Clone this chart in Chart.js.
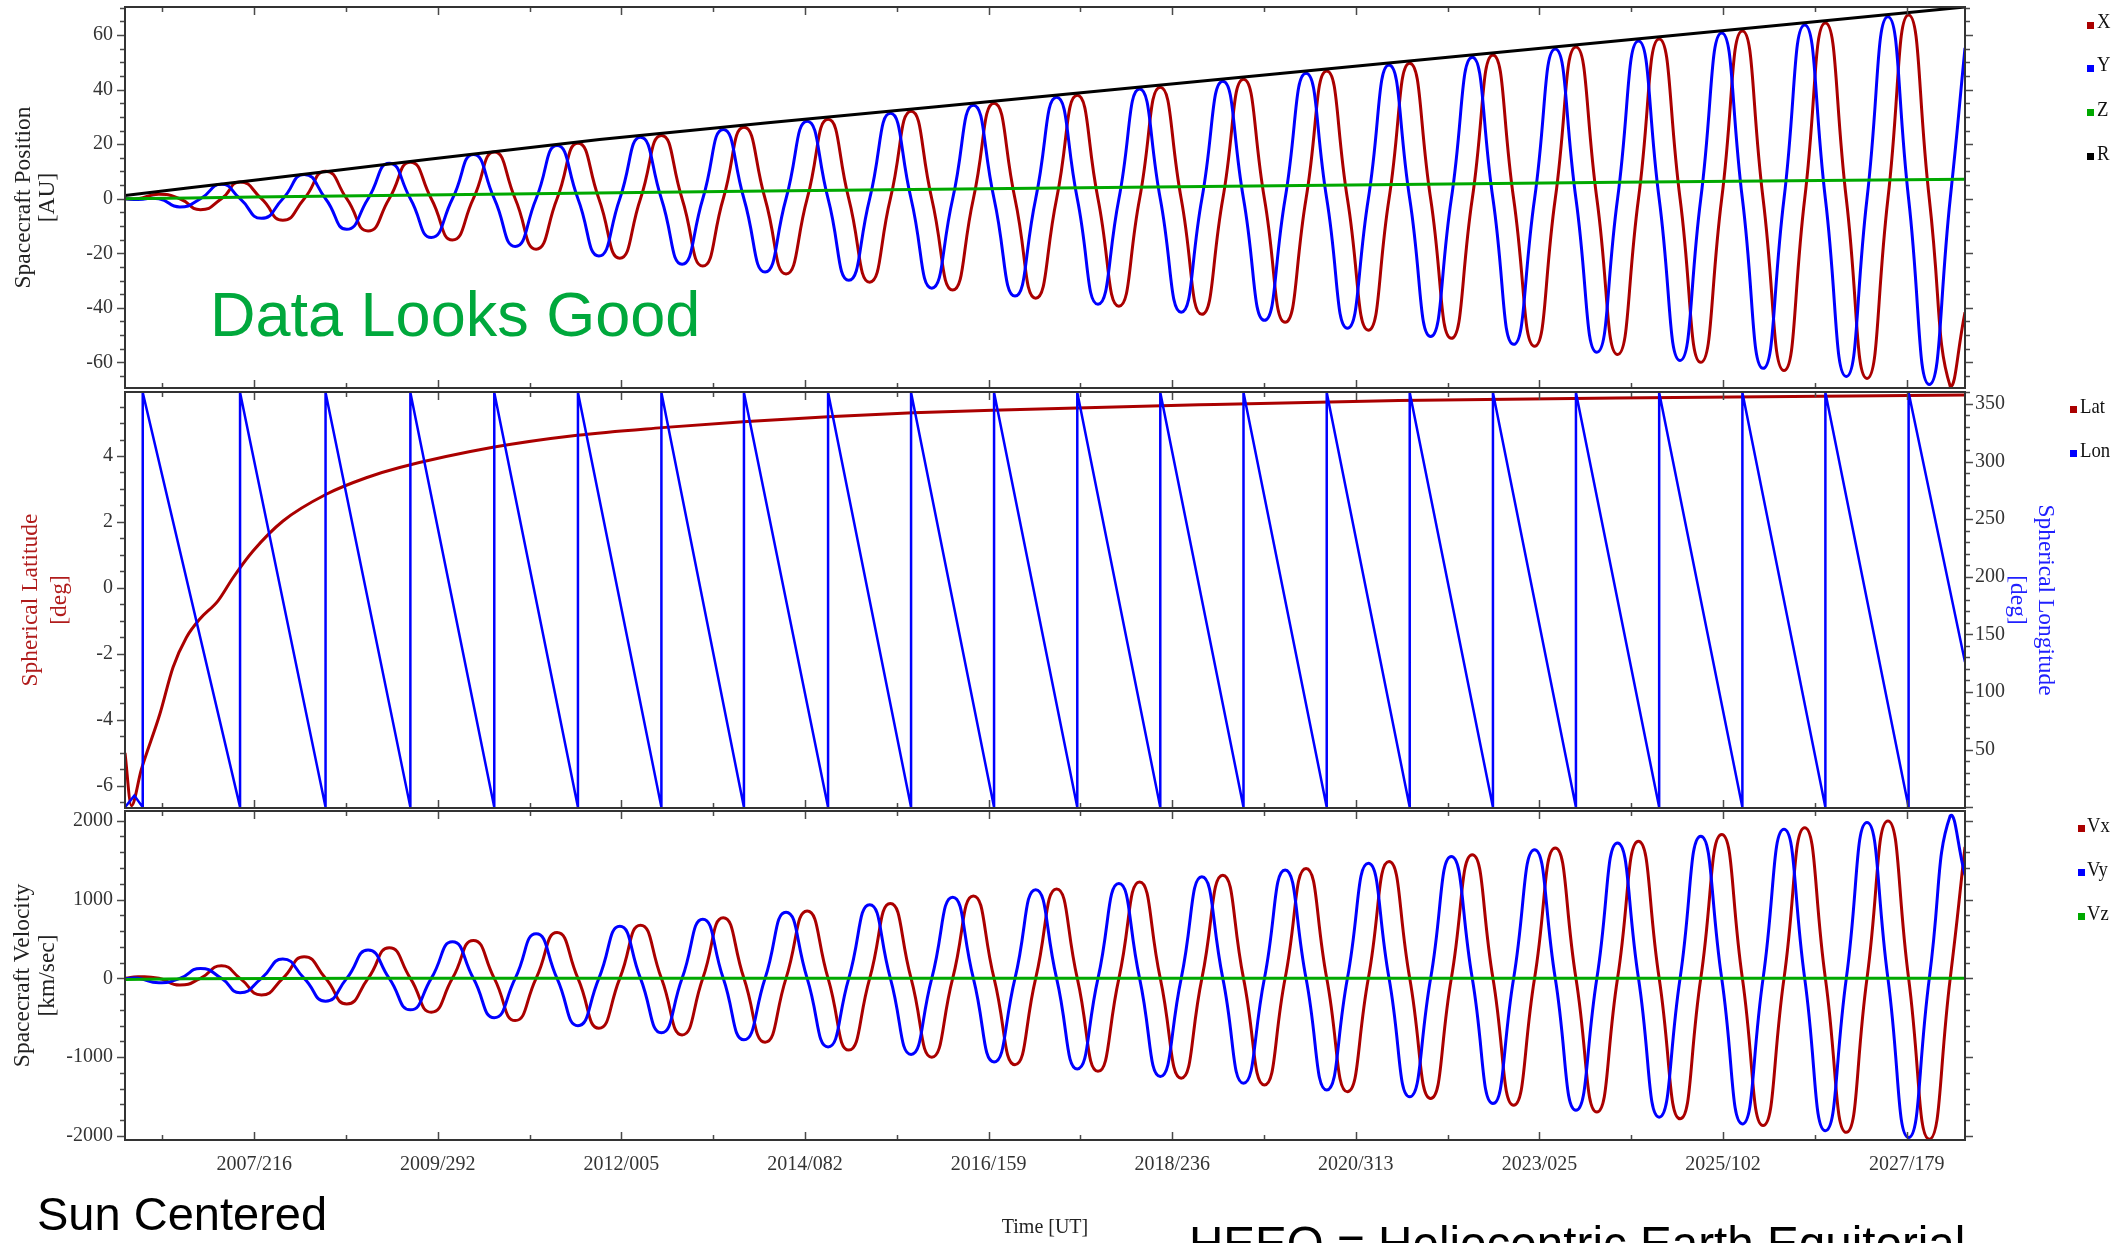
<!DOCTYPE html>
<html>
<head>
<meta charset="utf-8">
<title>Spacecraft Position - HEEQ</title>
<script src="https://cdn.jsdelivr.net/npm/chart.js"></script>
<style>
  html, body { margin: 0; padding: 0; background: #fff; }
  body { width: 2113px; height: 1243px; overflow: hidden; position: relative; }
  canvas { position: absolute; left: 0; }
  .note { position: absolute; font-family: 'Liberation Sans', Arial, sans-serif; line-height: 1; white-space: nowrap; }
  .key { position: absolute; font-family: 'Liberation Serif', serif; font-size: 22px; line-height: 22px; color: #111;
         white-space: nowrap; transform: scaleX(0.85); transform-origin: left top; }
  .sq { position: absolute; width: 7px; height: 7px; }
</style>
</head>
<body>
<canvas id="posChart" width="2113" height="390" style="top:0px"></canvas>
<canvas id="angChart" width="2113" height="420" style="top:390px"></canvas>
<canvas id="velChart" width="2113" height="433" style="top:810px"></canvas>

<div class="note" style="left:210px; top:283px; font-size:63px; color:#00a83c;">Data Looks Good</div>
<div class="note" style="left:37px; top:1190px; font-size:47px; color:#000;">Sun Centered</div>
<div class="note" style="left:1189px; top:1220px; font-size:47.6px; color:#000;">HEEQ = Heliocentric Earth Equitorial</div>

<script>
// x values are days counted from 2007/216 (the first labelled tick)
const xTickDays = [0, 807.5, 1615, 2422.5, 3230, 4037.5, 4845, 5652.5, 6460, 7267.5];
const xTickLabels = ['2007/216', '2009/292', '2012/005', '2014/082', '2016/159',
                     '2018/236', '2020/313', '2023/025', '2025/102', '2027/179'];

// sample times: extremes and zero crossings of the yearly swing
const sampleDays = [
  -568,
  -511, -419, -327, -236, -144,
  -62, 32, 126, 220,
  314, 407, 501, 594,
  687, 779, 872, 964,
  1056, 1148, 1240, 1332,
  1424, 1516, 1608, 1699,
  1791, 1882, 1973, 2063,
  2154, 2247, 2339, 2432,
  2524, 2615, 2707, 2798,
  2889, 2980, 3072, 3163,
  3254, 3346, 3437, 3529,
  3620, 3711, 3803, 3894,
  3985, 4077, 4168, 4260,
  4351, 4443, 4534, 4626,
  4717, 4808, 4900, 4991,
  5082, 5174, 5265, 5357,
  5448, 5539, 5631, 5722,
  5813, 5905, 5996, 6088,
  6179, 6271, 6362, 6454,
  6545, 6636, 6728, 6819,
  6910, 7002, 7093, 7185,
  7276, 7367, 7459,
  7524
];

// position [AU]
const posX = [
  0,
  0, 1.6, 0, -4.0, 0,
  6.1, 0, -7.9, 0,
  10.1, 0, -11.8, 0,
  13.4, 0, -15.1, 0,
  17.1, 0, -18.5, 0,
  20.3, 0, -21.8, 0,
  23.2, 0, -24.7, 0,
  26.2, 0, -27.6, 0,
  29.1, 0, -30.6, 0,
  32.1, 0, -33.5, 0,
  35.0, 0, -36.5, 0,
  37.9, 0, -39.4, 0,
  40.9, 0, -42.4, 0,
  43.8, 0, -45.3, 0,
  46.8, 0, -48.2, 0,
  49.7, 0, -51.2, 0,
  52.7, 0, -54.1, 0,
  55.6, 0, -57.1, 0,
  58.6, 0, -60.0, 0,
  61.5, 0, -63.0, 0,
  64.4, 0, -65.9, 0,
  67.4, 0, -68.8,
  -41.6
];
const posY = [
  0,
  -0.3, 0, -3.0, 0, 5.3,
  0, -7.2, 0, 8.9,
  0, -11.2, 0, 13.0,
  0, -14.2, 0, 16.2,
  0, -17.5, 0, 19.5,
  0, -21.0, 0, 22.5,
  0, -24.0, 0, 25.4,
  0, -26.9, 0, 28.4,
  0, -29.9, 0, 31.3,
  0, -32.8, 0, 34.3,
  0, -35.7, 0, 37.2,
  0, -38.7, 0, 40.2,
  0, -41.6, 0, 43.1,
  0, -44.6, 0, 46.0,
  0, -47.5, 0, 49.0,
  0, -50.5, 0, 51.9,
  0, -53.4, 0, 54.9,
  0, -56.3, 0, 57.8,
  0, -59.3, 0, 60.8,
  0, -62.2, 0, 63.7,
  0, -65.2, 0, 66.7,
  0, -68.1, 0,
  55.3
];
const rDays = [-568, 0, 1519, 3000, 4500, 6000, 7524];
const posR  = [1.2, 6.8, 21.7, 33.7, 45.8, 57.9, 70.3];
const zDays = [-568, 0, 1500, 3000, 4500, 6000, 7524];
const posZ  = [0, 0.6, 2.1, 3.5, 4.8, 6.0, 7.1];

// spherical latitude / longitude [deg]
const latDays = [-568, -540, -496, -415, -357, -298, -240, -159, -93, -5, 127, 317, 493, 640,
                 1056, 1421, 1794, 2151, 2524, 2898, 3246, 4156, 5035, 5989, 7524];
const latDeg  = [-5.0, -6.6, -5.5, -3.83, -2.41, -1.5, -0.95, -0.39, 0.31, 1.12, 2.03, 2.84, 3.34, 3.65,
                 4.27, 4.63, 4.86, 5.04, 5.19, 5.31, 5.39, 5.55, 5.68, 5.76, 5.85];
const lonDays = [-568, -527, -490, -490, -62, -62, 314, 314, 687, 687, 1056, 1056, 1424, 1424,
                 1791, 1791, 2154, 2154, 2524, 2524, 2889, 2889, 3254, 3254, 3620, 3620, 3985, 3985,
                 4351, 4351, 4717, 4717, 5082, 5082, 5448, 5448, 5813, 5813, 6179, 6179, 6545, 6545,
                 6910, 6910, 7276, 7276, 7524];
const lonDeg  = [0, 10, 0, 360, 0, 360, 0, 360, 0, 360, 0, 360, 0, 360,
                 0, 360, 0, 360, 0, 360, 0, 360, 0, 360, 0, 360, 0, 360,
                 0, 360, 0, 360, 0, 360, 0, 360, 0, 360, 0, 360, 0, 360,
                 0, 360, 0, 360, 126];

// velocity [km/sec]
const velX = [
  0,
  20, 0, -85, 0, 160,
  0, -211, 0, 274,
  0, -325, 0, 388,
  0, -430, 0, 480,
  0, -536, 0, 580,
  0, -633, 0, 675,
  0, -718, 0, 768,
  0, -810, 0, 855,
  0, -910, 0, 950,
  0, -1000, 0, 1045,
  0, -1095, 0, 1135,
  0, -1180, 0, 1223,
  0, -1266, 0, 1309,
  0, -1352, 0, 1395,
  0, -1438, 0, 1481,
  0, -1524, 0, 1567,
  0, -1610, 0, 1653,
  0, -1696, 0, 1739,
  0, -1782, 0, 1825,
  0, -1868, 0, 1911,
  0, -1954, 0, 1997,
  0, -2040, 0,
  1666
];
const velY = [
  -5,
  0, -55, 0, 126, 0,
  -182, 0, 244, 0,
  -290, 0, 358, 0,
  -400, 0, 463, 0,
  -500, 0, 565, 0,
  -600, 0, 660, 0,
  -690, 0, 750, 0,
  -780, 0, 840, 0,
  -870, 0, 935, 0,
  -965, 0, 1030, 0,
  -1060, 0, 1125, 0,
  -1150, 0, 1202, 0,
  -1245, 0, 1288, 0,
  -1331, 0, 1374, 0,
  -1417, 0, 1460, 0,
  -1503, 0, 1546, 0,
  -1589, 0, 1632, 0,
  -1675, 0, 1718, 0,
  -1761, 0, 1804, 0,
  -1847, 0, 1890, 0,
  -1933, 0, 1976, 0,
  -2019, 0, 2062,
  1308
];
const vzDays = [-568, -300, 500, 7524];
const velZ   = [-15, -5, 0, 0];

const RED = '#aa0000', BLUE = '#0000ff', GREEN = '#00a800';
const X_MIN = -568, X_MAX = 7524;

Chart.defaults.font.family = "'Liberation Serif', 'Times New Roman', serif";
Chart.defaults.color = '#333';

function pts(days, vals) {
  return days.map((d, i) => ({ x: d, y: vals[i] }));
}

function line(label, days, vals, color, extra) {
  return Object.assign({
    label: label, data: pts(days, vals), borderColor: color, backgroundColor: color,
    borderWidth: 3, pointRadius: 0, fill: false, tension: 0.55
  }, extra || {});
}

// fixed axis boxes, and no extra room for labels hanging past the plot edges
const fixedWidth = w => s => { s.width = w; s.paddingTop = 0; s.paddingBottom = 0; };
const fixedHeight = h => s => { s.height = h; s.paddingLeft = 0; s.paddingRight = 0; };
const tickValues = vals => s => { s.ticks = vals.map(v => ({ value: v })); };
const noGrid = { display: false, drawTicks: false };

function xScale(showLabels) {
  return {
    type: 'linear', min: X_MIN, max: X_MAX, display: showLabels,
    grid: noGrid, border: { display: false },
    afterBuildTicks: tickValues(xTickDays),
    afterFit: fixedHeight(showLabels ? 103 : 0),
    ticks: {
      autoSkip: false, maxRotation: 0, minRotation: 0, padding: 13,
      font: { size: 20 }, color: '#333',
      callback: (v, i) => xTickLabels[i]
    },
    title: {
      display: showLabels, text: 'Time [UT]', color: '#222',
      font: { size: 20, lineHeight: 1.2 }, padding: { top: 0, bottom: 3 }
    }
  };
}

function yTitle(lines, color, lineHeightPx, pad) {
  return {
    display: true, text: lines, color: color,
    font: { size: 23.5, lineHeight: lineHeightPx / 23.5 },
    padding: { top: pad, bottom: 0 }
  };
}

// frame around each panel, inward time ticks, outward value ticks
const framePlugin = {
  id: 'frame',
  afterDraw(chart, args, opts) {
    const { ctx, chartArea: a, scales } = chart;
    const seg = (x1, y1, x2, y2) => { ctx.moveTo(x1, y1); ctx.lineTo(x2, y2); };
    ctx.save();
    ctx.strokeStyle = '#4a4a4a';
    ctx.lineWidth = 1.5;
    ctx.beginPath();

    xTickDays.forEach(d => {
      const px = Math.round(scales.x.getPixelForValue(d)) + 0.5;
      seg(px, a.top, px, a.top + 8);
      seg(px, a.bottom, px, a.bottom - 8);
      const pm = Math.round(scales.x.getPixelForValue(d - 403.75)) + 0.5;
      seg(pm, a.top, pm, a.top + 5);
      seg(pm, a.bottom, pm, a.bottom - 5);
    });

    const yTicks = (scale, minor, major, side) => {
      for (let k = Math.ceil(scale.min / minor - 1e-9); k * minor <= scale.max + 1e-9; k++) {
        const v = k * minor;
        const py = Math.round(scale.getPixelForValue(v)) + 0.5;
        const len = Math.abs(v / major - Math.round(v / major)) < 1e-6 ? 8 : 5;
        if (side === 'left') seg(a.left - len, py, a.left, py);
        else seg(a.right, py, a.right + len, py);
      }
    };
    yTicks(scales.y, opts.minor, opts.major, 'left');
    if (opts.rightScale) yTicks(scales[opts.rightScale], opts.rightMinor, opts.rightMajor, 'right');
    else yTicks(scales.y, opts.minor, opts.major, 'right');
    ctx.stroke();

    ctx.strokeStyle = '#333';
    ctx.lineWidth = 2;
    ctx.strokeRect(a.left, a.top, a.right - a.left, a.bottom - a.top);
    ctx.restore();
  }
};

const commonPlugins = { legend: { display: false }, tooltip: { enabled: false } };

// Panel 1: position
new Chart(document.getElementById('posChart'), {
  type: 'line',
  data: { datasets: [
    line('R', rDays, posR, '#000000', { order: 0, tension: 0.3 }),
    line('Z', zDays, posZ, GREEN, { order: 1, tension: 0.3 }),
    line('Y', sampleDays, posY, BLUE, { order: 2 }),
    line('X', sampleDays, posX, RED, { order: 3 })
  ] },
  options: {
    responsive: false, animation: false, events: [],
    layout: { padding: { top: 7, bottom: 2, left: 0, right: 148 } },
    scales: {
      x: xScale(false),
      y: {
        min: -69.4, max: 70.3, grid: noGrid, border: { display: false },
        afterFit: fixedWidth(125),
        afterBuildTicks: tickValues([-60, -40, -20, 0, 20, 40, 60]),
        ticks: { padding: 12, font: { size: 20 }, callback: v => String(v) },
        title: yTitle(['Spacecraft Position', '[AU]'], '#222', 24, 12)
      }
    },
    plugins: Object.assign({ frame: { minor: 5, major: 20 } }, commonPlugins)
  },
  plugins: [framePlugin]
});

// Panel 2: spherical latitude / longitude
new Chart(document.getElementById('angChart'), {
  type: 'line',
  data: { datasets: [
    line('Lon', lonDays, lonDeg, BLUE, { yAxisID: 'y2', tension: 0, borderWidth: 2.5, order: 0 }),
    line('Lat', latDays, latDeg, RED, { yAxisID: 'y', cubicInterpolationMode: 'monotone', order: 1 })
  ] },
  options: {
    responsive: false, animation: false, events: [],
    layout: { padding: { top: 2, bottom: 2, left: 0, right: 0 } },
    scales: {
      x: xScale(false),
      y: {
        position: 'left', min: -6.67, max: 5.94, grid: noGrid, border: { display: false },
        afterFit: fixedWidth(125),
        afterBuildTicks: tickValues([-6, -4, -2, 0, 2, 4]),
        ticks: { padding: 12, font: { size: 20 }, callback: v => String(v) },
        title: yTitle(['Spherical Latitude', '[deg]'], '#b01c1c', 29, 16.5)
      },
      y2: {
        position: 'right', min: -0.75, max: 360.4, grid: noGrid, border: { display: false },
        afterFit: fixedWidth(148),
        afterBuildTicks: tickValues([50, 100, 150, 200, 250, 300, 350]),
        ticks: { padding: 10, font: { size: 20 }, callback: v => String(v) },
        title: yTitle(['Spherical Longitude', '[deg]'], '#2020ff', 28, 54)
      }
    },
    plugins: Object.assign({ frame: { minor: 0.5, major: 2, rightScale: 'y2', rightMinor: 10, rightMajor: 50 } }, commonPlugins)
  },
  plugins: [framePlugin]
});

// Panel 3: velocity
new Chart(document.getElementById('velChart'), {
  type: 'line',
  data: { datasets: [
    line('Vz', vzDays, velZ, GREEN, { order: 0, tension: 0 }),
    line('Vy', sampleDays, velY, BLUE, { order: 1 }),
    line('Vx', sampleDays, velX, RED, { order: 2 })
  ] },
  options: {
    responsive: false, animation: false, events: [],
    layout: { padding: { top: 1, bottom: 0, left: 0, right: 148 } },
    scales: {
      x: xScale(true),
      y: {
        min: -2051, max: 2123, grid: noGrid, border: { display: false },
        afterFit: fixedWidth(125),
        afterBuildTicks: tickValues([-2000, -1000, 0, 1000, 2000]),
        ticks: { padding: 12, font: { size: 20 }, callback: v => String(v) },
        title: yTitle(['Spacecraft Velocity', '[km/sec]'], '#222', 25, 10.5)
      }
    },
    plugins: Object.assign({ frame: { minor: 200, major: 1000 } }, commonPlugins)
  },
  plugins: [framePlugin]
});

// legends beside each panel: [text, colour, square left, text left, baseline]
const legendItems = [
  ['X', RED, 2087, 2097, 28.5], ['Y', BLUE, 2087, 2097, 71.5],
  ['Z', GREEN, 2087, 2097, 116], ['R', '#000', 2087, 2097, 160],
  ['Lat', RED, 2070, 2080, 413], ['Lon', BLUE, 2070, 2080, 457],
  ['Vx', RED, 2078, 2087, 832], ['Vy', BLUE, 2078, 2087, 876], ['Vz', GREEN, 2078, 2087, 920]
];
legendItems.forEach(([text, color, sx, tx, base]) => {
  const sq = document.createElement('div');
  sq.className = 'sq';
  sq.style.cssText = `left:${sx}px; top:${base - 7}px; background:${color};`;
  document.body.appendChild(sq);
  const t = document.createElement('div');
  t.className = 'key';
  t.textContent = text;
  t.style.left = tx + 'px';
  t.style.top = (base - 18.4) + 'px';
  document.body.appendChild(t);
});
</script>
</body>
</html>
